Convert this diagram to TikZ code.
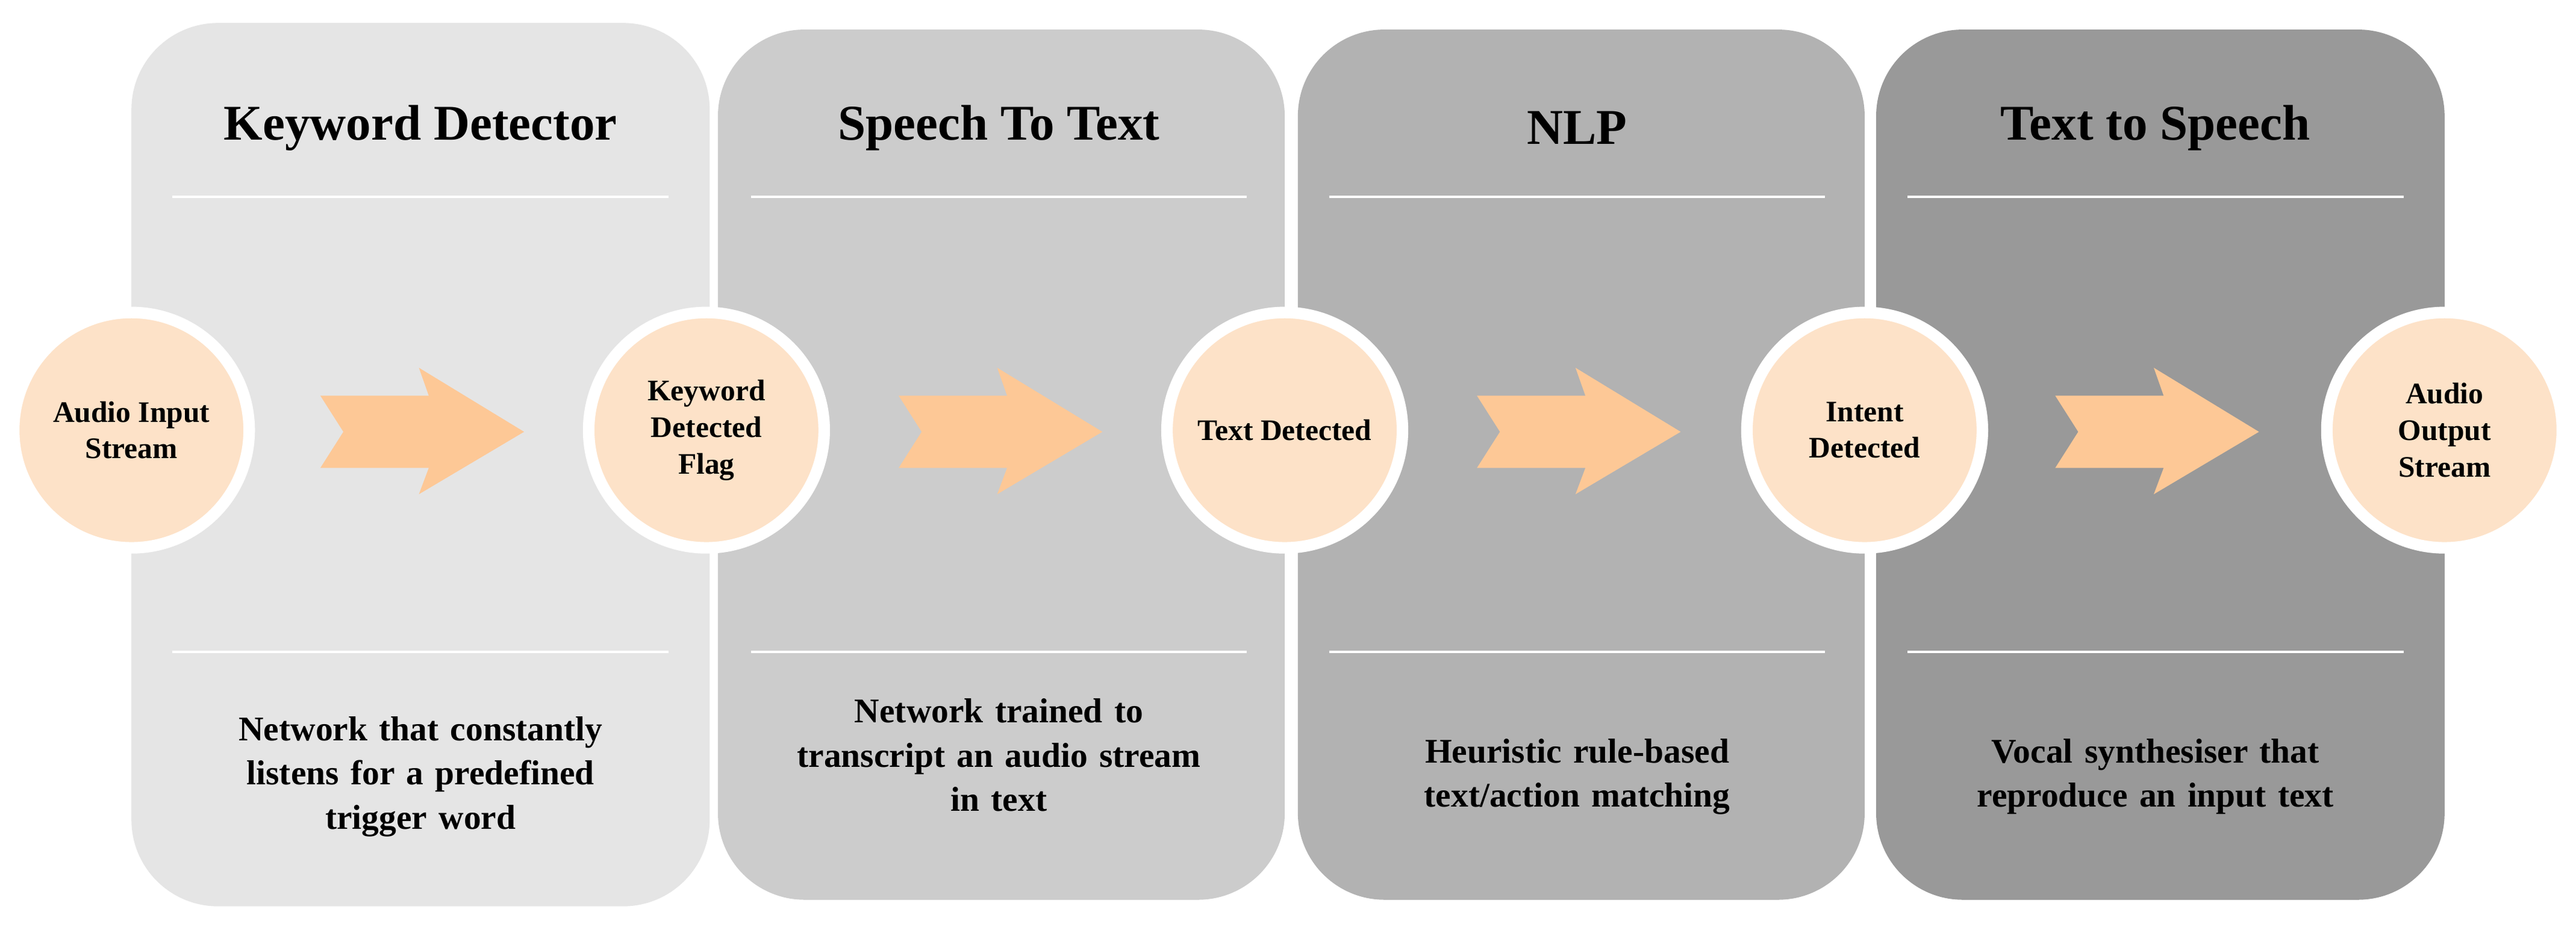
\documentclass[tikz,border=0pt]{standalone}
\usepackage{fontspec}
\setmainfont{Liberation Serif}
\usetikzlibrary{positioning}

\definecolor{peach}{HTML}{FDE2C8}
\definecolor{chevcol}{HTML}{FDC896}
\tikzset{
    panel/.style={rounded corners=45, draw=none},
    sep/.style={white, line width=1.2},
    head/.style={font=\fontsize{26}{30}\selectfont\bfseries},
    note/.style={font=\fontsize{18}{23}\selectfont\bfseries, align=center, text width=9.2cm},
    stage/.style={circle, fill=peach, draw=white, line width=6, minimum size=4.3cm,
        inner sep=0pt, align=center, font=\fontsize{15.5}{19}\selectfont\bfseries},
    chev/.style={fill=chevcol, draw=none}
}

\begin{document}
\begin{tikzpicture}[x=0.03cm, y=-0.03cm]
    \useasboundingbox (0,0) rectangle (1568,570);
    % Panels
    \fill[panel, fill=black!10] (80,14) rectangle (432,552);
    \fill[panel, fill=black!20] (437,18) rectangle (782,548);
    \fill[panel, fill=black!30] (790,18) rectangle (1135,548);
    \fill[panel, fill=black!40] (1142,18) rectangle (1488,548);
    % Titles
    \node[head] (t1) at (256,78) {Keyword Detector};
    \node[head] (t2) at (608,78) {Speech To Text};
    \node[head] (t3) at (960,78) {NLP};
    \node[head] (t4) at (1312,78) {Text to Speech};
    % Separators
    \foreach \x in {105,457,809,1161} {
        \draw[sep] (\x,120) -- ++(302,0);
        \draw[sep] (\x,397) -- ++(302,0);
    }
    % Descriptions
    \node[note] (d1) at (256,473) {Network that constantly\\listens for a predefined\\trigger word};
    \node[note] (d2) at (608,460) {Network trained to\\transcript an audio stream\\in text};
    \node[note] (d3) at (960,473) {Heuristic rule-based\\text/action matching};
    \node[note] (d4) at (1312,473) {Vocal synthesiser that\\reproduce an input text};
    % Arrows
    \foreach \x in {195,547,899,1251} {
        \fill[chev] (\x,241) -- (\x+66,241) -- (\x+60,224) -- (\x+124,263)
            -- (\x+60,301) -- (\x+66,285) -- (\x,285) -- (\x+14,263) -- cycle;
    }
    % Stages
    \node[stage] (s1) at (80,262) {Audio Input\\Stream};
    \node[stage] (s2) at (430,262) {Keyword\\Detected\\Flag};
    \node[stage] (s3) at (782,262) {Text Detected};
    \node[stage] (s4) at (1135,262) {Intent\\Detected};
    \node[stage] (s5) at (1488,262) {Audio\\Output\\Stream};
\end{tikzpicture}
\end{document}
